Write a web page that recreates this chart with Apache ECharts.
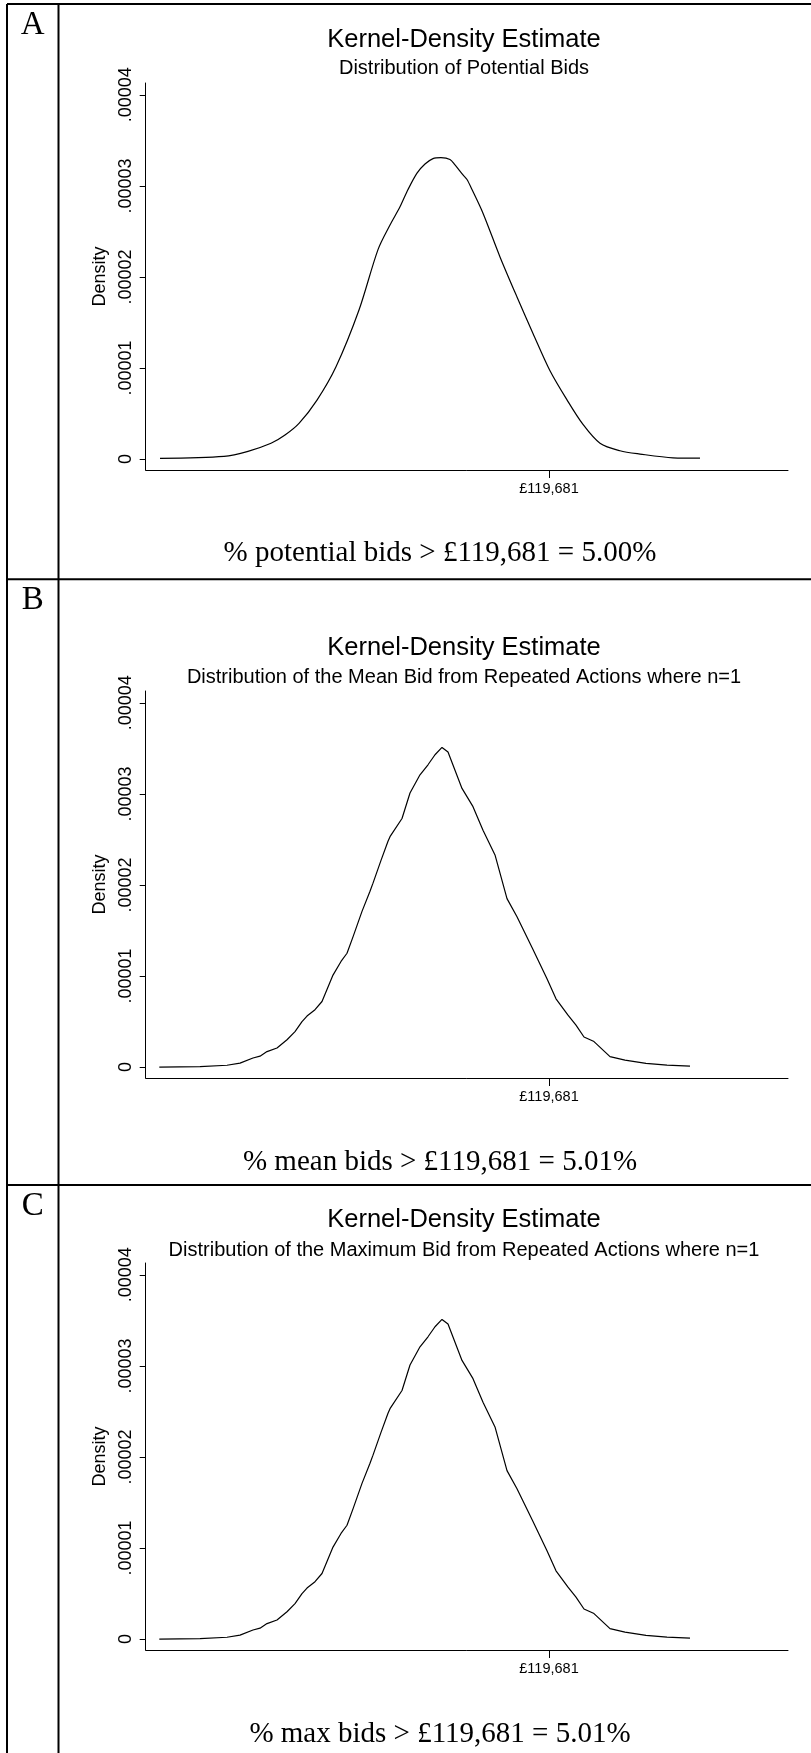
<!DOCTYPE html>
<html>
<head>
<meta charset="utf-8">
<script src="https://cdn.jsdelivr.net/npm/echarts@6/dist/echarts.min.js"></script>
<style>
	html, body {margin: 0; padding: 0; background: #fff}
	#main {width: 811px; height: 1753px}
</style>
</head>
<body>
<div id="main"></div>
<script>
//bid values (GBP) and kernel density (units of 1e-6)
var bidsPotential = [48883, 60531, 64899, 69085, 71633, 74181, 77457, 80915, 85101, 88559, 90743, 92563, 94019, 95657, 97113, 98569, 100025, 101663, 102573, 104029, 104757, 105667, 107669, 110763, 113857, 116769, 119863, 122957, 125869, 128963, 132603, 136243, 142249, 147163]
var densPotential = [0.08, 0.30, 0.85, 1.73, 2.64, 3.92, 6.48, 10.14, 16.37, 23.0, 25.7, 27.7, 29.6, 31.4, 32.4, 33.0, 33.1, 32.9, 32.3, 31.2, 30.7, 29.6, 27.0, 22.2, 17.8, 13.8, 9.7, 6.5, 3.8, 1.74, 0.91, 0.55, 0.14, 0.10]

var bidsMean = [48756, 56163, 61077, 63443, 65809, 67083, 68357, 70177, 71997, 73453, 74727, 75637, 77093, 78367, 80369, 81825, 82917, 84009, 85647, 87103, 87649, 89105, 90379, 90743, 92927, 94383, 96203, 97659, 98933, 100207, 101299, 103847, 105849, 107669, 109853, 112037, 113857, 116769, 119317, 120955, 123139, 124595, 126051, 127871, 130783, 133513, 137335, 141157, 145343]
var densMean = [0.0, 0.05, 0.2, 0.44, 1.0, 1.2, 1.7, 2.1, 3.0, 3.9, 5.0, 5.6, 6.3, 7.2, 10.1, 11.6, 12.5, 14.3, 17.1, 19.3, 20.2, 22.7, 24.8, 25.3, 27.3, 30.1, 32.1, 33.2, 34.3, 35.1, 34.6, 30.6, 28.6, 26.0, 23.3, 18.5, 16.5, 12.9, 9.7, 7.5, 5.7, 4.6, 3.3, 2.8, 1.15, 0.77, 0.41, 0.22, 0.1]

var bidsMax = [48756, 56163, 61077, 63443, 65809, 67083, 68357, 70177, 71997, 73453, 74727, 75637, 77093, 78367, 80369, 81825, 82917, 84009, 85647, 87103, 87649, 89105, 90379, 90743, 92927, 94383, 96203, 97659, 98933, 100207, 101299, 103847, 105849, 107669, 109853, 112037, 113857, 116769, 119317, 120955, 123139, 124595, 126051, 127871, 130783, 133513, 137335, 141157, 145343]
var densMax = [0.0, 0.05, 0.2, 0.44, 1.0, 1.2, 1.7, 2.1, 3.0, 3.9, 5.0, 5.6, 6.3, 7.2, 10.1, 11.6, 12.5, 14.3, 17.1, 19.3, 20.2, 22.7, 24.8, 25.3, 27.3, 30.1, 32.1, 33.2, 34.3, 35.1, 34.6, 30.6, 28.6, 26.0, 23.3, 18.5, 16.5, 12.9, 9.7, 7.5, 5.7, 4.6, 3.3, 2.8, 1.15, 0.77, 0.41, 0.22, 0.1]

var xTicks = [119681]
var yTicks = [0, 10, 20, 30, 40]

var panelLetters = ['A', 'B', 'C']
var titles = ['Kernel-Density Estimate', 'Kernel-Density Estimate', 'Kernel-Density Estimate']
var subtitles = ['Distribution of Potential Bids', 'Distribution of the Mean Bid from Repeated Actions where n=1', 'Distribution of the Maximum Bid from Repeated Actions where n=1']
var captions = ['% potential bids > £119,681 = 5.00%', '% mean bids > £119,681 = 5.01%', '% max bids > £119,681 = 5.01%']

var chart = echarts.init(document.getElementById('main'), null, {renderer: 'canvas'})

//layout of each panel (top of y axis, title/subtitle/caption/letter centres)
var panels = [
	{axisTop: 83, title: 39.5, sub: 68.5, caption: 553, letter: 25},
	{axisTop: 691, title: 647.5, sub: 677.5, caption: 1162.5, letter: 600.5},
	{axisTop: 1263, title: 1220, sub: 1250, caption: 1734.5, letter: 1206}
]
var seriesData = [[bidsPotential, densPotential], [bidsMean, densMean], [bidsMax, densMax]]

function pair(xs, ys) {
	var out = []
	for (var x = 0; x < xs.length; x++) {
		out.push([xs[x], ys[x]])
	}
	return out
}

function fmtPound(v) {
	return '£' + String(v).replace(/\B(?=(\d{3})+(?!\d))/g, ',')
}

function fmtDensity(v) {
	if (v === 0) return '0'
	return '.0000' + Math.round(v / 10)
}

var grids = [], xAxes = [], yAxes = [], series = [], graphics = []
var black = '#000'
var sans = '"Liberation Sans", Arial, sans-serif'
var serif = '"Liberation Serif", "Times New Roman", serif'

for (var i = 0; i < 3; i++) {
	var p = panels[i]
	grids.push({left: 145.7, top: p.axisTop, width: 642.3, height: 387})
	xAxes.push({
		gridIndex: i,
		type: 'value',
		min: 46280,
		max: 163180,
		axisLine: {onZero: false, lineStyle: {color: black, width: 1}},
		axisTick: {customValues: xTicks, length: 8, lineStyle: {color: black, width: 1}},
		axisLabel: {customValues: xTicks, formatter: fmtPound, color: black, fontSize: 14.5, fontFamily: sans, margin: 11},
		splitLine: {show: false}
	})
	yAxes.push({
		gridIndex: i,
		type: 'value',
		min: -1.2,
		max: 41.3,
		name: 'Density',
		nameLocation: 'middle',
		nameGap: 33,
		nameTextStyle: {color: black, fontSize: 18, fontFamily: sans},
		axisLine: {show: true, lineStyle: {color: black, width: 1}},
		axisTick: {show: true, customValues: yTicks, length: 6, lineStyle: {color: black, width: 1}},
		axisLabel: {customValues: yTicks, rotate: 90, formatter: fmtDensity, color: black, fontSize: 18, fontFamily: sans, margin: 11},
		splitLine: {show: false}
	})
	series.push({
		type: 'line',
		xAxisIndex: i,
		yAxisIndex: i,
		data: pair(seriesData[i][0], seriesData[i][1]),
		showSymbol: false,
		smooth: i === 0 ? 0.3 : false,
		silent: true,
		lineStyle: {color: black, width: 1.2}
	})
	//texts
	graphics.push({type: 'text', x: 464, y: p.title, style: {text: titles[i], font: '25.5px ' + sans, fill: black, textAlign: 'center', textVerticalAlign: 'middle'}})
	graphics.push({type: 'text', x: 464, y: p.sub, style: {text: subtitles[i], font: '20px ' + sans, fill: black, textAlign: 'center', textVerticalAlign: 'middle'}})
	graphics.push({type: 'text', x: 440, y: p.caption, style: {text: captions[i], font: '29px ' + serif, fill: black, textAlign: 'center', textVerticalAlign: 'middle'}})
	graphics.push({type: 'text', x: 32.7, y: p.letter, style: {text: panelLetters[i], font: '33px ' + serif, fill: black, textAlign: 'center', textVerticalAlign: 'middle'}})
}

//table frame
var frame = [
	[7, 4, 811, 4],
	[7, 4, 7, 1753],
	[58.5, 4, 58.5, 1753],
	[7, 579.3, 811, 579.3],
	[7, 1185, 811, 1185]
]
frame.forEach(function(f) {
	graphics.push({type: 'line', shape: {x1: f[0], y1: f[1], x2: f[2], y2: f[3]}, style: {stroke: black, lineWidth: 2}})
})

chart.setOption({
	animation: false,
	backgroundColor: '#fff',
	grid: grids,
	xAxis: xAxes,
	yAxis: yAxes,
	series: series,
	graphic: graphics
})
</script>
</body>
</html>
